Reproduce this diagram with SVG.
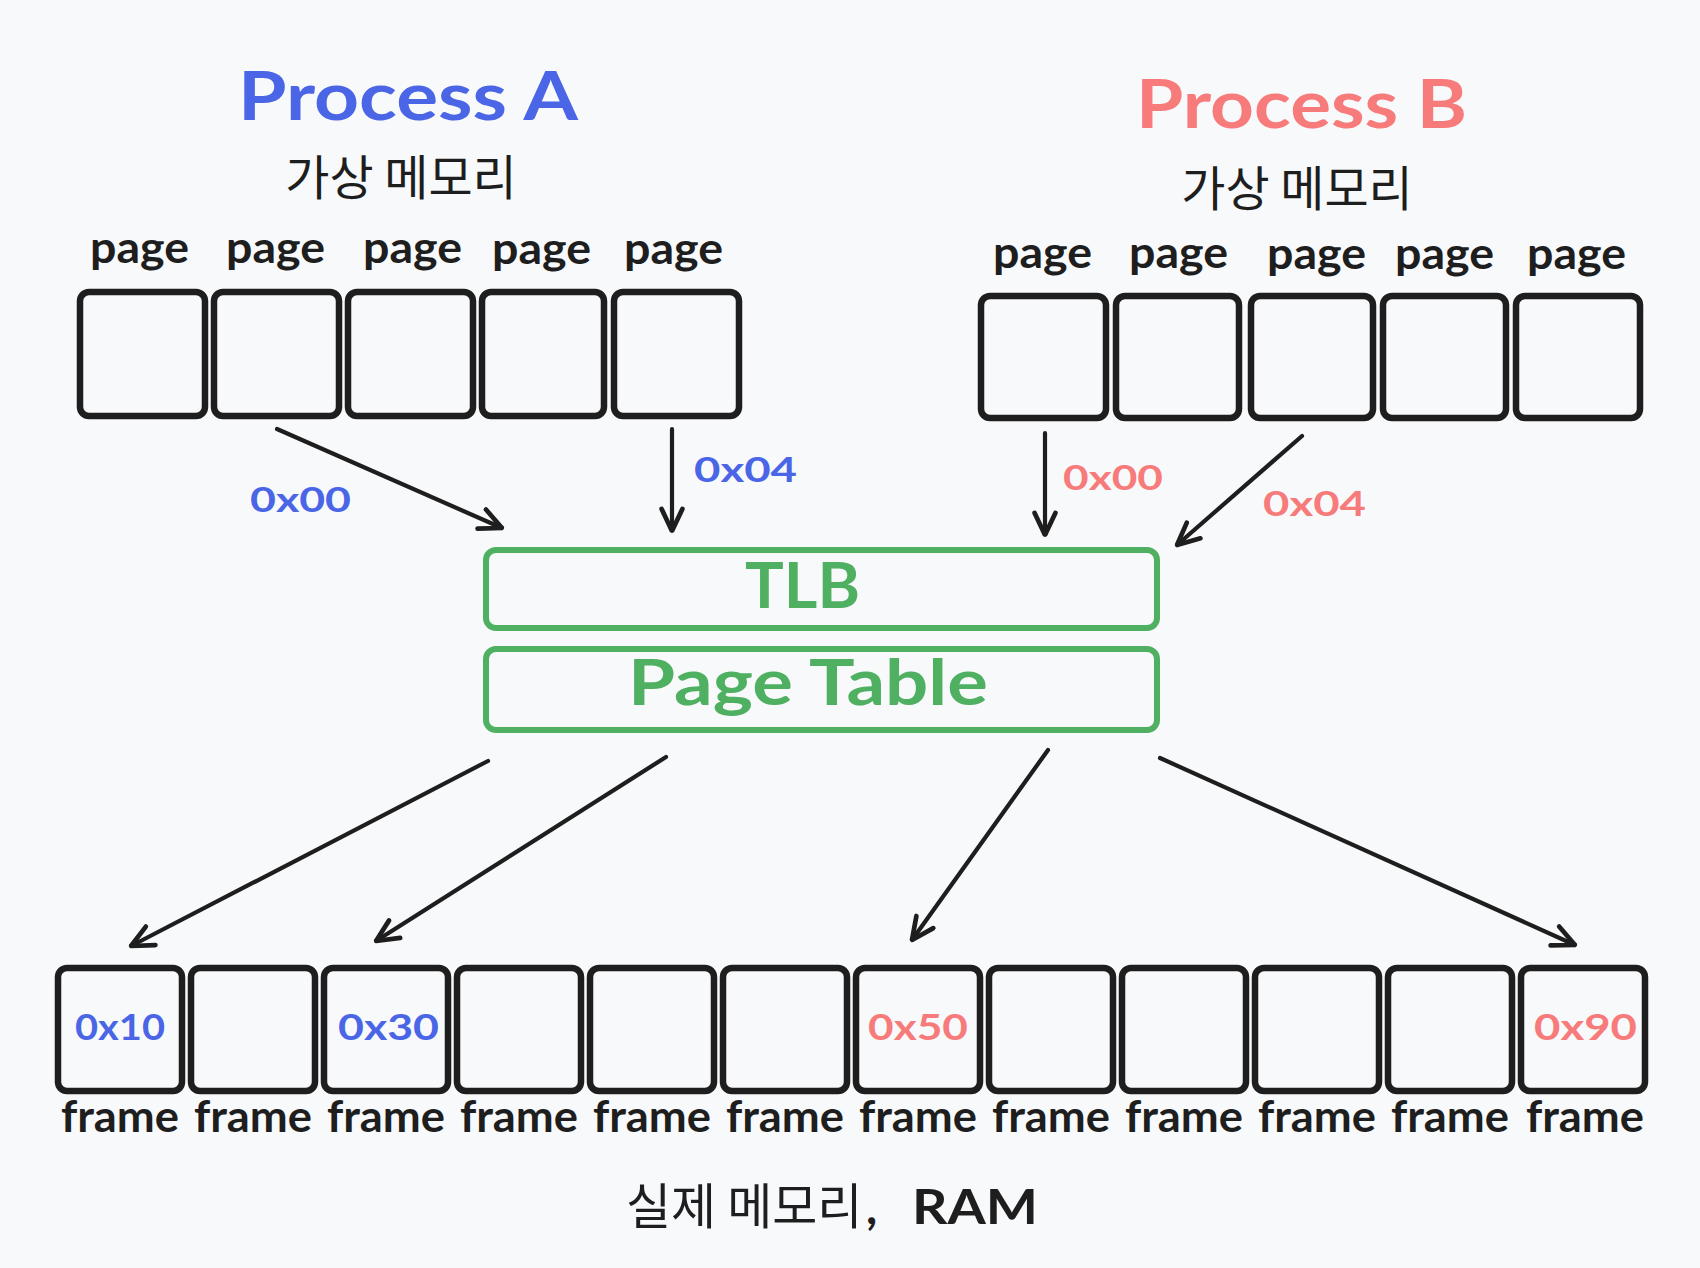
<svg xmlns="http://www.w3.org/2000/svg" width="1700" height="1268" viewBox="0 0 1700 1268">
<defs>
<style>
.bg{fill:#f8f9fb}
.box{fill:none;stroke:#1e1e1e;stroke-width:6.5;stroke-linejoin:round}
.gbox{fill:none;stroke:#4fb062;stroke-width:6;stroke-linejoin:round}
.hand{font-family:Lato,"Noto Sans","Liberation Sans",sans-serif;font-weight:700}
.kr{font-family:"Noto Sans CJK KR","Noto Sans",sans-serif;font-weight:400;fill:#1e1e1e}
.dark{fill:#1e1e1e}
.blue{fill:#4a66e6}
.red{fill:#f77b7b}
.green{fill:#4fb062}
.conn{stroke:#1e1e1e;stroke-width:4.2;stroke-linecap:round;fill:none}
</style>
<marker id="ah" viewBox="0 0 20 20" refX="19" refY="10" markerWidth="26" markerHeight="26" markerUnits="userSpaceOnUse" orient="auto">
<path d="M2,2 L19,10 L2,18" fill="none" stroke="#1e1e1e" stroke-width="3.6" stroke-linecap="round" stroke-linejoin="round"/>
</marker>
</defs>
<rect class="bg" x="0" y="0" width="1700" height="1268"/>

<g id="title-a">
<text class="hand blue" x="238" y="120" font-size="66" textLength="340" lengthAdjust="spacingAndGlyphs">Process A</text>
<text class="kr" x="401" y="195" font-size="48" text-anchor="middle">가상 메모리</text>
</g>
<g id="title-b">
<text class="hand red" x="1136" y="128" font-size="66" textLength="331" lengthAdjust="spacingAndGlyphs">Process B</text>
<text class="kr" x="1297" y="206" font-size="48" text-anchor="middle">가상 메모리</text>
</g>

<g id="pages-a">
<g id="page-a1"><text class="hand dark" x="90" y="263" font-size="44" textLength="99" lengthAdjust="spacingAndGlyphs">page</text><rect class="box" x="80" y="292" width="125" height="124" rx="9"/></g>
<g id="page-a2"><text class="hand dark" x="226" y="263" font-size="44" textLength="99" lengthAdjust="spacingAndGlyphs">page</text><rect class="box" x="214" y="292" width="125" height="124" rx="9"/></g>
<g id="page-a3"><text class="hand dark" x="363" y="263" font-size="44" textLength="99" lengthAdjust="spacingAndGlyphs">page</text><rect class="box" x="348" y="292" width="125" height="124" rx="9"/></g>
<g id="page-a4"><text class="hand dark" x="492" y="264" font-size="44" textLength="99" lengthAdjust="spacingAndGlyphs">page</text><rect class="box" x="482" y="292" width="122" height="124" rx="9"/></g>
<g id="page-a5"><text class="hand dark" x="624" y="264" font-size="44" textLength="99" lengthAdjust="spacingAndGlyphs">page</text><rect class="box" x="614" y="292" width="125" height="124" rx="9"/></g>
</g>

<g id="pages-b">
<g id="page-b1"><text class="hand dark" x="993" y="268" font-size="44" textLength="99" lengthAdjust="spacingAndGlyphs">page</text><rect class="box" x="981" y="296" width="125" height="122" rx="9"/></g>
<g id="page-b2"><text class="hand dark" x="1129" y="268" font-size="44" textLength="99" lengthAdjust="spacingAndGlyphs">page</text><rect class="box" x="1116" y="296" width="123" height="122" rx="9"/></g>
<g id="page-b3"><text class="hand dark" x="1267" y="269" font-size="44" textLength="99" lengthAdjust="spacingAndGlyphs">page</text><rect class="box" x="1251" y="296" width="122" height="122" rx="9"/></g>
<g id="page-b4"><text class="hand dark" x="1395" y="269" font-size="44" textLength="99" lengthAdjust="spacingAndGlyphs">page</text><rect class="box" x="1383" y="296" width="123" height="122" rx="9"/></g>
<g id="page-b5"><text class="hand dark" x="1527" y="269" font-size="44" textLength="99" lengthAdjust="spacingAndGlyphs">page</text><rect class="box" x="1516" y="296" width="124" height="122" rx="9"/></g>
</g>

<g id="tlb">
<rect class="gbox" x="486" y="550" width="671" height="78" rx="10"/>
<text class="hand green" x="745" y="608" font-size="64" textLength="115" lengthAdjust="spacingAndGlyphs">TLB</text>
</g>
<g id="page-table">
<rect class="gbox" x="486" y="649" width="671" height="81" rx="10"/>
<text class="hand green" x="628" y="705" font-size="64" textLength="360" lengthAdjust="spacingAndGlyphs">Page Table</text>
</g>

<g id="ram">
<g id="frame1"><rect class="box" x="58" y="968" width="124" height="123" rx="9"/><text class="hand blue" x="75" y="1040" font-size="37" textLength="90" lengthAdjust="spacingAndGlyphs">0x10</text><text class="hand dark" x="61" y="1132" font-size="44" textLength="118" lengthAdjust="spacingAndGlyphs">frame</text></g>
<g id="frame2"><rect class="box" x="191" y="968" width="124" height="123" rx="9"/><text class="hand dark" x="194" y="1132" font-size="44" textLength="118" lengthAdjust="spacingAndGlyphs">frame</text></g>
<g id="frame3"><rect class="box" x="324" y="968" width="124" height="123" rx="9"/><text class="hand blue" x="338" y="1040" font-size="37" textLength="101" lengthAdjust="spacingAndGlyphs">0x30</text><text class="hand dark" x="327" y="1132" font-size="44" textLength="118" lengthAdjust="spacingAndGlyphs">frame</text></g>
<g id="frame4"><rect class="box" x="457" y="968" width="124" height="123" rx="9"/><text class="hand dark" x="460" y="1132" font-size="44" textLength="118" lengthAdjust="spacingAndGlyphs">frame</text></g>
<g id="frame5"><rect class="box" x="590" y="968" width="124" height="123" rx="9"/><text class="hand dark" x="593" y="1132" font-size="44" textLength="118" lengthAdjust="spacingAndGlyphs">frame</text></g>
<g id="frame6"><rect class="box" x="723" y="968" width="124" height="123" rx="9"/><text class="hand dark" x="726" y="1132" font-size="44" textLength="118" lengthAdjust="spacingAndGlyphs">frame</text></g>
<g id="frame7"><rect class="box" x="856" y="968" width="124" height="123" rx="9"/><text class="hand red" x="868" y="1040" font-size="37" textLength="100" lengthAdjust="spacingAndGlyphs">0x50</text><text class="hand dark" x="859" y="1132" font-size="44" textLength="118" lengthAdjust="spacingAndGlyphs">frame</text></g>
<g id="frame8"><rect class="box" x="989" y="968" width="124" height="123" rx="9"/><text class="hand dark" x="992" y="1132" font-size="44" textLength="118" lengthAdjust="spacingAndGlyphs">frame</text></g>
<g id="frame9"><rect class="box" x="1122" y="968" width="124" height="123" rx="9"/><text class="hand dark" x="1125" y="1132" font-size="44" textLength="118" lengthAdjust="spacingAndGlyphs">frame</text></g>
<g id="frame10"><rect class="box" x="1255" y="968" width="124" height="123" rx="9"/><text class="hand dark" x="1258" y="1132" font-size="44" textLength="118" lengthAdjust="spacingAndGlyphs">frame</text></g>
<g id="frame11"><rect class="box" x="1388" y="968" width="124" height="123" rx="9"/><text class="hand dark" x="1391" y="1132" font-size="44" textLength="118" lengthAdjust="spacingAndGlyphs">frame</text></g>
<g id="frame12"><rect class="box" x="1521" y="968" width="124" height="123" rx="9"/><text class="hand red" x="1534" y="1040" font-size="37" textLength="103" lengthAdjust="spacingAndGlyphs">0x90</text><text class="hand dark" x="1526" y="1132" font-size="44" textLength="118" lengthAdjust="spacingAndGlyphs">frame</text></g>
</g>

<g id="ram-label">
<text font-size="49"><tspan class="kr" x="626" y="1224">실제 메모리</tspan><tspan class="hand dark" x="866" y="1224" font-size="48">, </tspan><tspan class="hand dark" x="912" y="1224" font-size="48" textLength="126" lengthAdjust="spacingAndGlyphs">RAM</tspan></text>
</g>

<g id="connectors">
<line class="conn" x1="277" y1="429" x2="502" y2="528" marker-end="url(#ah)"/>
<line class="conn" x1="672" y1="429" x2="672" y2="531" marker-end="url(#ah)"/>
<line class="conn" x1="1045" y1="433" x2="1045" y2="535" marker-end="url(#ah)"/>
<line class="conn" x1="1302" y1="436" x2="1177" y2="545" marker-end="url(#ah)"/>
<line class="conn" x1="488" y1="761" x2="131" y2="946" marker-end="url(#ah)"/>
<line class="conn" x1="666" y1="757" x2="376" y2="941" marker-end="url(#ah)"/>
<line class="conn" x1="1048" y1="750" x2="912" y2="940" marker-end="url(#ah)"/>
<line class="conn" x1="1160" y1="758" x2="1575" y2="945" marker-end="url(#ah)"/>
<text class="hand blue" x="250" y="512" font-size="35" textLength="101" lengthAdjust="spacingAndGlyphs">0x00</text>
<text class="hand blue" x="694" y="482" font-size="35" textLength="103" lengthAdjust="spacingAndGlyphs">0x04</text>
<text class="hand red" x="1063" y="490" font-size="35" textLength="100" lengthAdjust="spacingAndGlyphs">0x00</text>
<text class="hand red" x="1263" y="516" font-size="35" textLength="103" lengthAdjust="spacingAndGlyphs">0x04</text>
</g>
</svg>
